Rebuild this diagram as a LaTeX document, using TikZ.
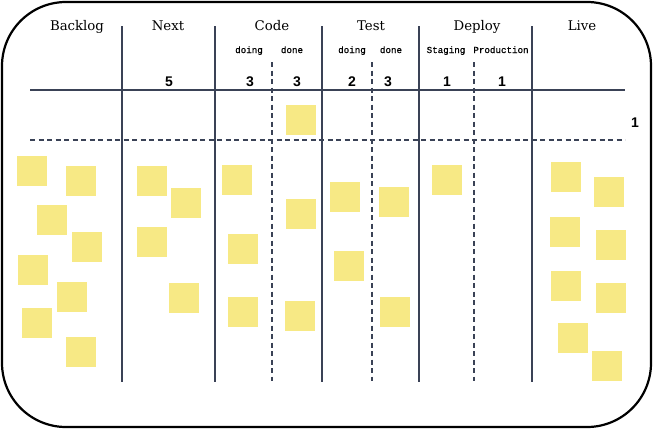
\documentclass[tikz,border=0pt]{standalone}
\usepackage{fontspec}
\setmainfont{DejaVu Serif}
\newfontfamily\subfont[FakeBold=0.8]{Liberation Mono}
\newfontfamily\numfont{Liberation Sans}
\usetikzlibrary{positioning}

\definecolor{boardline}{RGB}{58,66,86}
\definecolor{noteyellow}{RGB}{247,233,133}

\tikzset{
    lane/.style={draw=boardline, line width=1.8pt},
    sublane/.style={draw=boardline, line width=1.3pt, dash pattern=on 5pt off 3.5pt},
    colhead/.style={anchor=base, inner sep=0pt, font=\fontsize{13.3}{13}\selectfont},
    subhead/.style={anchor=base, inner sep=0pt, font=\subfont\fontsize{9.2}{9}\selectfont},
    wiplimit/.style={anchor=base, inner sep=0pt, font=\numfont\bfseries\fontsize{14}{14}\selectfont},
    sticky/.style={fill=noteyellow, minimum size=30pt, inner sep=0pt},
}

\begin{document}
\begin{tikzpicture}[x=1pt, y=-1pt]
    \useasboundingbox (0,0) rectangle (653,429);
    \draw[line width=2.2pt, rounded corners=64pt] (2,2) rectangle (651,427);

    % column headers
    \node[colhead] (backlog) at (77,30)  {Backlog};
    \node[colhead] (next)    at (168,30) {Next};
    \node[colhead] (code)    at (272,30) {Code};
    \node[colhead] (test)    at (371,30) {Test};
    \node[colhead] (deploy)  at (477,30) {Deploy};
    \node[colhead] (live)    at (582,30) {Live};

    \node[subhead] (code doing)  at (249,53) {doing};
    \node[subhead] (code done)   at (292,53) {done};
    \node[subhead] (test doing)  at (352,53) {doing};
    \node[subhead] (test done)   at (391,53) {done};
    \node[subhead] (staging)     at (446,53) {Staging};
    \node[subhead] (production)  at (501,53) {Production};

    % limits
    \node[wiplimit] (limit next)       at (169,86)  {5};
    \node[wiplimit] (limit code doing) at (250,86)  {3};
    \node[wiplimit] (limit code done)  at (297,86)  {3};
    \node[wiplimit] (limit test doing) at (352,86)  {2};
    \node[wiplimit] (limit test done)  at (388,86)  {3};
    \node[wiplimit] (limit staging)    at (447,86)  {1};
    \node[wiplimit] (limit production) at (502,86)  {1};
    \node[wiplimit] (limit expedite)   at (635,127) {1};

    % lanes
    \foreach \x in {122,215,322,419,532}
        \draw[lane] (\x,26) -- (\x,382);
    \foreach \x in {272,372,474}
        \draw[sublane] (\x,62) -- (\x,381);
    \draw[lane] (30,90) -- (625,90);
    \draw[sublane] (30,140) -- (625,140);

    % sticky notes
    \foreach \x/\y [count=\i] in {
        32/171, 81/181, 52/220, 87/247, 33/270, 72/297, 37/323, 81/352,
        152/181, 186/203, 152/242, 184/298,
        237/180, 243/249, 243/312,
        301/120, 301/214, 300/316,
        345/197, 349/266, 394/202, 395/312,
        447/180,
        566/177, 609/192, 565/232, 611/245, 566/286, 611/298, 573/338, 607/366}
        \node[sticky] (note \i) at (\x,\y) {};
\end{tikzpicture}
\end{document}
